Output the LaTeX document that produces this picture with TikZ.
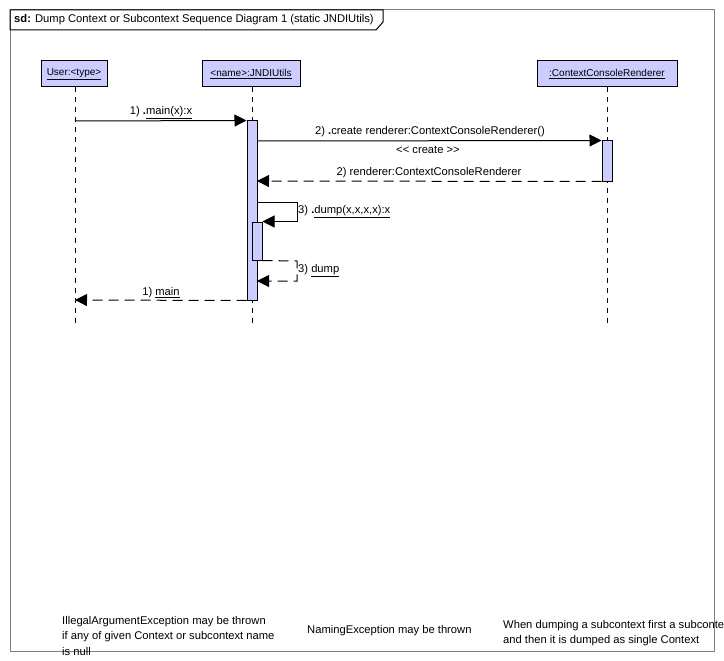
\documentclass[tikz,border=0pt]{standalone}
\usepackage{fontspec}
\setmainfont{Liberation Sans}
\usetikzlibrary{arrows.meta,calc}
\definecolor{actfill}{HTML}{CCCCFF}
\definecolor{framegray}{HTML}{808080}
\tikzset{
  head/.style={draw=black, fill=actfill, line width=1pt, minimum height=26pt, inner sep=0pt},
  actbox/.style={draw=black, fill=actfill, line width=1pt, minimum width=10pt, inner sep=0pt},
  lifeline/.style={draw=black, line width=1pt, dash pattern=on 5pt off 5pt},
  msg/.style={draw=black, line width=1pt, -{Triangle[length=12pt,width=12pt]}},
  ret/.style={draw=black, line width=1pt, dash pattern=on 10pt off 6pt, -{Triangle[length=12pt,width=12pt]}},
  lbl/.style={inner sep=0pt, font=\fontsize{11.2}{13}\selectfont},
  note/.style={inner sep=0pt, align=left, anchor=north west, font=\fontsize{11.2}{15.5}\selectfont}
}
\begin{document}
\begin{tikzpicture}[x=1pt,y=-1pt]
\clip (0,0) rectangle (724,661);
\fill[white] (0,0) rectangle (724,661);
% frame
\draw[framegray, line width=1pt] (10,10) rectangle (714,651);
\draw[black, line width=1pt] (10,30) -- (376,30) -- (383,22) -- (383,10) -- (10,10) -- cycle;
\node[lbl, anchor=west] (title) at (14,20) {\textbf{sd:} Dump Context or Subcontext Sequence Diagram 1 (static JNDIUtils)};
% heads
\node[head, minimum width=66pt] (user) at (74,74) {\underline{User:<type>}};
\node[head, minimum width=98pt] (jndi) at (251,74) {\underline{<name>:JNDIUtils}};
\node[head, minimum width=140pt] (rend) at (607,74) {\underline{:ContextConsoleRenderer}};
% lifeline ends
\coordinate (userend) at (75,326);
\coordinate (jndiend) at (252,326);
\coordinate (rendend) at (607,326);
\draw[lifeline] (user.south -| userend) -- (userend);
\draw[lifeline] (jndi.south -| jndiend) -- (jndiend);
\draw[lifeline] (rend.south) -- (rendend);
% activations
\node[actbox, minimum height=179pt] (act1) at (252,210.5) {};
\node[actbox, minimum height=40pt] (act2) at (607,161) {};
\node[actbox, minimum height=38pt] (act3) at (257,241) {};
% message 1
\coordinate (u1) at (75,121);
\draw[msg] (u1) -- (act1.north west);
\node[lbl] (m1) at (161,113) {1) \textbf{.}\underline{main(x):x}};
% message 2
\coordinate (a1m2) at (257,141);
\draw[msg] (a1m2) -- (act2.north west);
\node[lbl] (m2) at (430,132) {2) \textbf{.}create renderer:ContextConsoleRenderer()};
\node[lbl] (m2s) at (428,150) {<\kern0pt< create >\kern0pt>};
% return 2
\coordinate (a1r2) at (257,181);
\draw[ret] (act2.south west) -- (a1r2);
\node[lbl] (r2) at (429,173) {2) renderer:ContextConsoleRenderer};
% self message 3
\coordinate (s3a) at (257,202);
\coordinate (s3b) at (297,202);
\draw[msg] (s3a) -- (s3b) |- (act3.north east);
\node[lbl, anchor=west] (m3) at (298,212) {3) \textbf{.}\underline{dump(x,x,x,x):x}};
% return 3
\coordinate (r3b) at (297,261);
\coordinate (r3c) at (257,281);
\draw[ret] (act3.south east) -- (r3b) |- (r3c);
\node[lbl, anchor=west] (r3) at (298,271) {3) \underline{dump}};
% return 1
\coordinate (u2) at (75,300);
\draw[ret] (act1.south west) -- (u2);
\node[lbl] (r1) at (161,293) {1) \underline{main}};
% notes
\node[note] (n1) at (62,616) {IllegalArgumentException may be thrown\\if any of given Context or subcontext name\\is null};
\node[note] (n2) at (307,625) {NamingException may be thrown};
\node[note] (n3) at (503,620) {When dumping a subcontext first a subcontext\\and then it is dumped as single Context};
\end{tikzpicture}
\end{document}
